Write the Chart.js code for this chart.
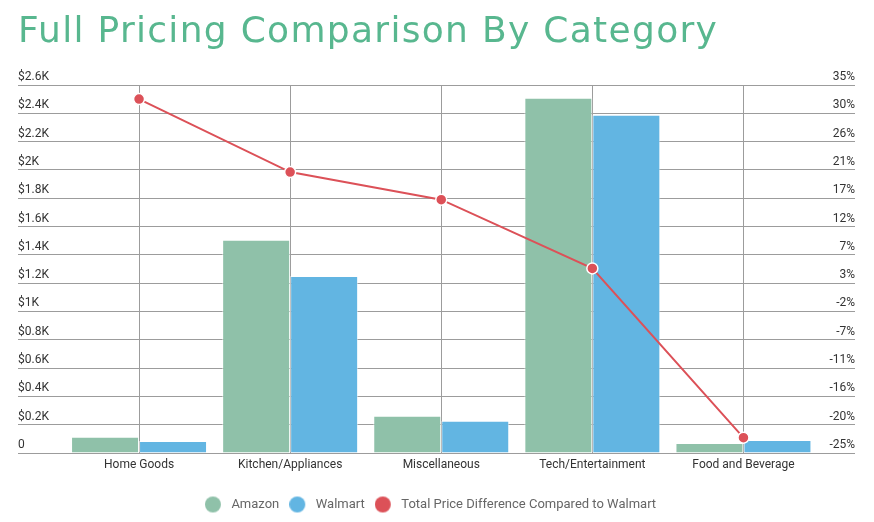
<!DOCTYPE html>
<html>
<head>
<meta charset="utf-8">
<script src="https://cdn.jsdelivr.net/npm/chart.js@4.4.1/dist/chart.umd.min.js"></script>
<style>
  html, body { margin: 0; padding: 0; background: #ffffff; }
  #wrap { width: 874px; height: 522px; position: relative; }
</style>
</head>
<body>
<div id="wrap"><canvas id="c" width="874" height="522"></canvas></div>
<script>
const categories = ['Home Goods', 'Kitchen/Appliances', 'Miscellaneous', 'Tech/Entertainment', 'Food and Beverage'];
const amazonValues = [114, 1507, 263, 2510, 71];
const walmartValues = [85, 1251, 228, 2389, 92];
const priceDiffPct = [32.7, 20.8, 16.3, 5.1, -22.5];
const leftTickLabels = ['0', '$0.2K', '$0.4K', '$0.6K', '$0.8K', '$1K', '$1.2K', '$1.4K', '$1.6K', '$1.8K', '$2K', '$2.2K', '$2.4K', '$2.6K'];
const rightTickLabels = ['-25%', '-20%', '-16%', '-11%', '-7%', '-2%', '3%', '7%', '12%', '17%', '21%', '26%', '30%', '35%'];
const seriesNames = ['Amazon', 'Walmart', 'Total Price Difference Compared to Walmart'];
const seriesColors = ['#8fc1a9', '#62b5e2', '#dc5158'];

const GRID = '#9c9c9c';

function legendDot(color) {
  const c = document.createElement('canvas');
  c.width = 20; c.height = 18;
  const g = c.getContext('2d');
  g.fillStyle = color;
  g.beginPath();
  g.arc(8, 9, 8, 0, Math.PI * 2);
  g.fill();
  return c;
}
const dots = seriesColors.map(legendDot);

function evenTicks(scale, n) {
  const ticks = [];
  for (let i = 0; i < n; i++) ticks.push({ value: scale.min + (scale.max - scale.min) * i / (n - 1) });
  scale.ticks = ticks;
}

// widen the title's letter spacing (title is still drawn by Chart.js) and nudge legend
const tweaks = {
  id: 'tweaks',
  afterLayout(chart) {
    const lg = chart.legend;
    if (lg) { lg.left -= 6; lg.right -= 6; }
  },
  beforeDraw(chart) {
    const t = chart.titleBlock;
    if (t && !t._spaced) {
      const orig = t.draw.bind(t);
      t.draw = function (area) {
        const ctx = chart.ctx;
        ctx.save();
        ctx.letterSpacing = '1.3px';
        orig(area);
        ctx.restore();
      };
      t._spaced = true;
    }
  }
};

new Chart(document.getElementById('c'), {
  type: 'bar',
  data: {
    labels: categories,
    datasets: [
      { label: seriesNames[0], data: amazonValues, backgroundColor: seriesColors[0], borderColor: 'rgba(255,255,255,0.55)', borderWidth: 1, yAxisID: 'y', order: 1, categoryPercentage: 0.9, barPercentage: 1.0 },
      { label: seriesNames[1], data: walmartValues, backgroundColor: seriesColors[1], borderColor: 'rgba(255,255,255,0.55)', borderWidth: 1, yAxisID: 'y', order: 1, categoryPercentage: 0.9, barPercentage: 1.0 },
      { type: 'line', label: seriesNames[2], data: priceDiffPct, borderColor: seriesColors[2], backgroundColor: seriesColors[2], borderWidth: 2, pointRadius: 5.5, pointBorderColor: '#ffffff', pointBorderWidth: 1.5, pointBackgroundColor: seriesColors[2], tension: 0, yAxisID: 'y1', order: 0 }
    ]
  },
  plugins: [tweaks],
  options: {
    responsive: false,
    animation: false,
    devicePixelRatio: 1,
    layout: { padding: { left: 18, right: 19, top: 0, bottom: 1.0 } },
    plugins: {
      tooltip: { enabled: false },
      title: {
        display: true,
        text: 'Full Pricing Comparison By Category',
        align: 'start',
        color: '#58b78f',
        font: { family: '"DejaVu Sans"', size: 36, weight: '400', lineHeight: 1.2 },
        padding: { top: 11, bottom: 30.8 }
      },
      legend: {
        position: 'bottom',
        labels: {
          usePointStyle: true,
          pointStyleWidth: 20,
          padding: 10,
          color: '#666666',
          font: { family: 'Roboto', size: 13 },
          sort: (a, b) => a.datasetIndex - b.datasetIndex,
          generateLabels: (chart) => Chart.defaults.plugins.legend.labels.generateLabels(chart).map(l => Object.assign(l, { pointStyle: dots[l.datasetIndex] }))
        }
      }
    },
    scales: {
      x: {
        offset: true,
        grid: { offset: false, color: GRID, drawTicks: false },
        border: { color: GRID },
        ticks: { color: '#333333', font: { family: 'Roboto', size: 12 }, padding: 5, maxRotation: 0 },
        afterFit: (s) => { s.height = 35; }
      },
      y: {
        position: 'left',
        min: 0, max: 2600,
        afterBuildTicks: (s) => evenTicks(s, leftTickLabels.length),
        grid: { color: GRID, drawTicks: true, tickLength: 45.5 },
        border: { display: false },
        ticks: { color: '#333333', font: { family: 'Roboto', size: 12 }, crossAlign: 'far', labelOffset: -8, callback: (v, i) => leftTickLabels[i] },
        afterFit: (s) => { s.width = 45.5; }
      },
      y1: {
        position: 'right',
        min: -25, max: 35,
        afterBuildTicks: (s) => evenTicks(s, rightTickLabels.length),
        grid: { drawOnChartArea: false, color: GRID, drawTicks: true, tickLength: 36 },
        border: { display: false },
        ticks: { color: '#333333', font: { family: 'Roboto', size: 12 }, crossAlign: 'far', labelOffset: -8, callback: (v, i) => rightTickLabels[i] },
        afterFit: (s) => { s.width = 36; }
      }
    }
  }
});
</script>
</body>
</html>
